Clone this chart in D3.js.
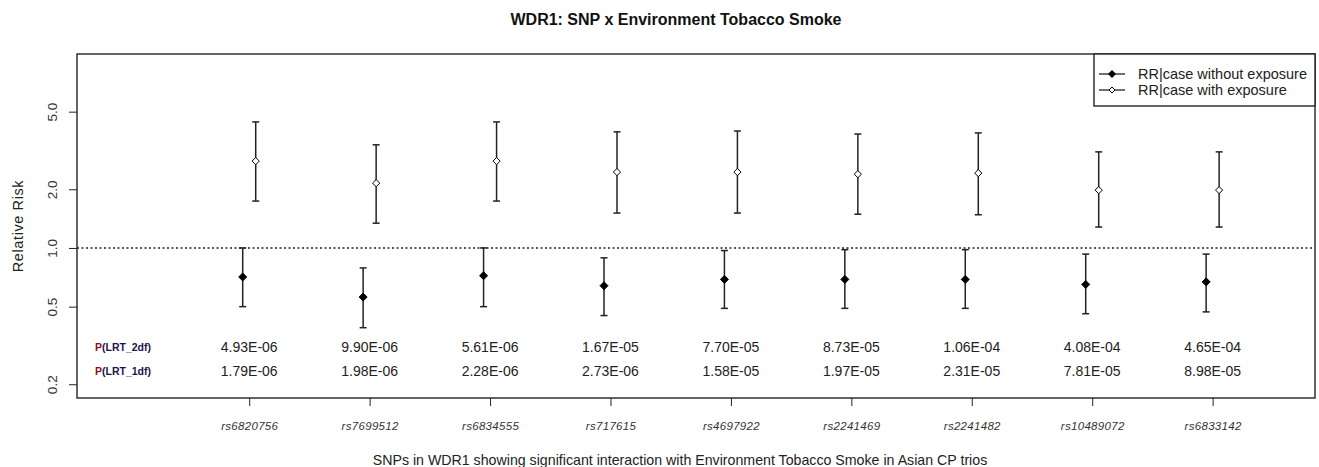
<!DOCTYPE html>
<html>
<head>
<meta charset="utf-8">
<script src="https://cdn.jsdelivr.net/npm/d3@7"></script>
<style>
  body { margin: 0; background: #fff; }
  svg { font-family: Arial, "Liberation Sans", sans-serif; }
</style>
</head>
<body>
<div id="chart"></div>
<script>
// chart data
var snps = ["rs6820756", "rs7699512", "rs6834555", "rs717615", "rs4697922",
            "rs2241469", "rs2241482", "rs10489072", "rs6833142"];

// RR|case without exposure (point, lower, upper)
var rrNoExp    = [0.71, 0.56, 0.72, 0.64, 0.69, 0.69, 0.69, 0.65, 0.67];
var rrNoExpLo  = [0.50, 0.39, 0.50, 0.45, 0.49, 0.49, 0.49, 0.46, 0.47];
var rrNoExpHi  = [1.00, 0.79, 1.00, 0.89, 0.97, 0.98, 0.98, 0.93, 0.93];

// RR|case with exposure
var rrExp      = [2.79, 2.15, 2.79, 2.45, 2.45, 2.39, 2.42, 1.98, 1.98];
var rrExpLo    = [1.74, 1.34, 1.74, 1.51, 1.51, 1.49, 1.48, 1.28, 1.28];
var rrExpHi    = [4.43, 3.38, 4.43, 3.94, 3.98, 3.84, 3.89, 3.11, 3.11];

var pLrt2df = ["4.93E-06", "9.90E-06", "5.61E-06", "1.67E-05", "7.70E-05",
               "8.73E-05", "1.06E-04", "4.08E-04", "4.65E-04"];
var pLrt1df = ["1.79E-06", "1.98E-06", "2.28E-06", "2.73E-06", "1.58E-05",
               "1.97E-05", "2.31E-05", "7.81E-05", "8.98E-05"];

var yTicks = [0.2, 0.5, 1.0, 2.0, 5.0];

var W = 1319, H = 467;
var box = {left: 77, top: 54, right: 1315, bottom: 398};

var svg = d3.select("#chart").append("svg")
    .attr("width", W)
    .attr("height", H);

var x = d3.scaleLinear().domain([-0.43, 9.85]).range([box.left, box.right]);
var y = d3.scaleLog().domain([0.17, 9.88]).range([box.bottom, box.top]);

var ink = "#222";

// y axis
var yAxis = d3.axisLeft(y).tickValues(yTicks).tickFormat(d3.format(".1f")).tickSize(8);
var gy = svg.append("g")
    .attr("transform", "translate(" + box.left + ",0)")
    .call(yAxis);
gy.select(".domain").remove();
gy.selectAll(".tick line").attr("stroke", ink);
gy.selectAll(".tick text")
    .attr("x", 0).attr("y", 0).attr("dy", null)
    .attr("transform", "translate(-25,0) rotate(-90)")
    .attr("text-anchor", "middle")
    .attr("dominant-baseline", "central")
    .style("font-size", "13.5px")
    .style("font-family", "Arial, 'Liberation Sans', sans-serif")
    .attr("fill", "#333");

// x axis
var idx = d3.range(1, snps.length + 1);
var xAxis = d3.axisBottom(x).tickValues(idx).tickFormat(function(d) { return snps[d - 1]; }).tickSize(8);
var gx = svg.append("g")
    .attr("transform", "translate(0," + box.bottom + ")")
    .call(xAxis);
gx.select(".domain").remove();
gx.selectAll(".tick line").attr("stroke", ink);
gx.selectAll(".tick text")
    .attr("y", 28).attr("dy", null)
    .attr("dominant-baseline", "central")
    .style("font-size", "11.5px")
    .style("font-style", "italic")
    .style("letter-spacing", "0.3px")
    .style("font-family", "Arial, 'Liberation Sans', sans-serif")
    .attr("fill", "#333");

// plot box
svg.append("rect")
    .attr("x", box.left).attr("y", box.top)
    .attr("width", box.right - box.left).attr("height", box.bottom - box.top)
    .attr("fill", "none").attr("stroke", ink).attr("stroke-width", 1.4);

// reference line at RR = 1
svg.append("line")
    .attr("x1", box.left).attr("x2", box.right)
    .attr("y1", y(1)).attr("y2", y(1))
    .attr("stroke", ink).attr("stroke-width", 1.4)
    .attr("stroke-dasharray", "2,2.5");

// error bars + diamonds
var off = 0.054;
var series = [
  {pt: rrNoExp, lo: rrNoExpLo, hi: rrNoExpHi, dx: -off, fill: "#000"},
  {pt: rrExp, lo: rrExpLo, hi: rrExpHi, dx: off, fill: "#fff"}
];

var diamond = function(r) {
  return "M0," + (-r) + "L" + r + ",0L0," + r + "L" + (-r) + ",0Z";
};

series.forEach(function(s) {
  var g = svg.append("g");
  var rows = s.pt.map(function(v, i) { return {i: i + 1, v: v, lo: s.lo[i], hi: s.hi[i]}; });

  g.selectAll(".bar").data(rows).enter().append("line")
    .attr("x1", function(d) { return x(d.i + s.dx); })
    .attr("x2", function(d) { return x(d.i + s.dx); })
    .attr("y1", function(d) { return y(d.lo); })
    .attr("y2", function(d) { return y(d.hi); })
    .attr("stroke", ink).attr("stroke-width", 1.5);

  ["lo", "hi"].forEach(function(k) {
    g.selectAll(".cap-" + k).data(rows).enter().append("line")
      .attr("x1", function(d) { return x(d.i + s.dx) - 3.5; })
      .attr("x2", function(d) { return x(d.i + s.dx) + 3.5; })
      .attr("y1", function(d) { return y(d[k]); })
      .attr("y2", function(d) { return y(d[k]); })
      .attr("stroke", ink).attr("stroke-width", 1.5);
  });

  g.selectAll(".pt").data(rows).enter().append("path")
    .attr("d", diamond(s.fill === "#000" ? 4 : 3.6))
    .attr("transform", function(d) { return "translate(" + x(d.i + s.dx) + "," + y(d.v) + ")"; })
    .attr("fill", s.fill).attr("stroke", "#000").attr("stroke-width", 1);
});

// p-value rows
var pRows = [{name: "2df", vals: pLrt2df, y: 347}, {name: "1df", vals: pLrt1df, y: 371}];
pRows.forEach(function(r) {
  var t = svg.append("text")
      .attr("x", 95).attr("y", r.y)
      .attr("dominant-baseline", "central")
      .style("font-size", "10.5px").style("font-weight", "bold");
  t.append("tspan").attr("fill", "#8b1020").text("P");
  t.append("tspan").attr("fill", "#1e1050").text("(LRT_" + r.name + ")");

  svg.selectAll(null).data(r.vals).enter().append("text")
    .attr("x", function(d, i) { return x(i + 1); })
    .attr("y", r.y)
    .attr("text-anchor", "middle")
    .attr("dominant-baseline", "central")
    .style("font-size", "14px")
    .attr("fill", "#222")
    .text(function(d) { return d; });
});

// legend
var lg = {left: 1094, top: box.top, right: box.right, bottom: 106};
svg.append("rect")
    .attr("x", lg.left).attr("y", lg.top)
    .attr("width", lg.right - lg.left).attr("height", lg.bottom - lg.top)
    .attr("fill", "#fff").attr("stroke", ink).attr("stroke-width", 1.4);

var legendItems = [
  {label: "RR|case without exposure", fill: "#000", y: 74},
  {label: "RR|case with exposure", fill: "#fff", y: 90}
];
legendItems.forEach(function(d) {
  svg.append("line")
    .attr("x1", 1099).attr("x2", 1125).attr("y1", d.y).attr("y2", d.y)
    .attr("stroke", ink).attr("stroke-width", 1.3);
  svg.append("path")
    .attr("d", diamond(d.fill === "#000" ? 3.5 : 3))
    .attr("transform", "translate(1112," + d.y + ")")
    .attr("fill", d.fill).attr("stroke", "#000");
  svg.append("text")
    .attr("x", 1138).attr("y", d.y)
    .attr("dominant-baseline", "central")
    .style("font-size", "14.5px")
    .attr("fill", "#222")
    .text(d.label);
});

// titles
svg.append("text")
    .attr("x", 676).attr("y", 19)
    .attr("text-anchor", "middle")
    .attr("dominant-baseline", "central")
    .style("font-size", "16px").style("font-weight", "bold")
    .attr("fill", "#111")
    .text("WDR1: SNP x Environment Tobacco Smoke");

svg.append("text")
    .attr("x", 680).attr("y", 460)
    .attr("text-anchor", "middle")
    .attr("dominant-baseline", "central")
    .style("font-size", "14.2px")
    .attr("fill", "#222")
    .text("SNPs in WDR1 showing significant interaction with Environment Tobacco Smoke in Asian CP trios");

svg.append("text")
    .attr("transform", "translate(18," + ((box.top + box.bottom) / 2) + ") rotate(-90)")
    .attr("text-anchor", "middle")
    .attr("dominant-baseline", "central")
    .style("font-size", "14.5px")
    .style("letter-spacing", "0.6px")
    .attr("fill", "#222")
    .text("Relative Risk");
</script>
</body>
</html>
